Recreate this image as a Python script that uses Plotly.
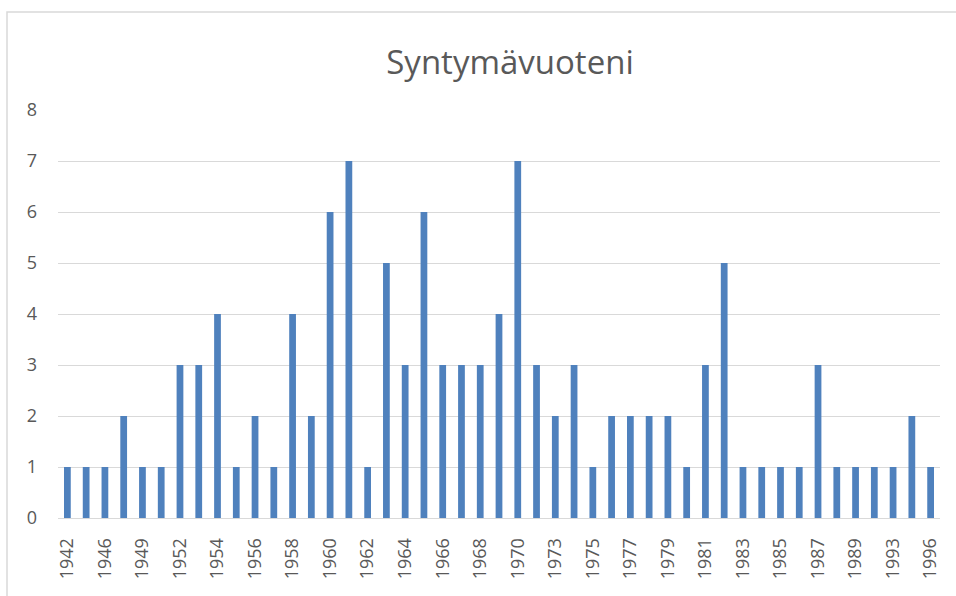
import plotly.graph_objects as go

years = ["1942", "1944", "1946", "1947", "1949", "1950", "1952", "1953", "1954", "1955",
         "1956", "1957", "1958", "1959", "1960", "1961", "1962", "1963", "1964", "1965",
         "1966", "1967", "1968", "1969", "1970", "1971", "1973", "1974", "1975", "1976",
         "1977", "1978", "1979", "1980", "1981", "1982", "1983", "1984", "1985", "1986",
         "1987", "1988", "1989", "1991", "1993", "1994", "1996"]
counts = [1, 1, 1, 2, 1, 1, 3, 3, 4, 1,
          2, 1, 4, 2, 6, 7, 1, 5, 3, 6,
          3, 3, 3, 4, 7, 3, 2, 3, 1, 2,
          2, 2, 2, 1, 3, 5, 1, 1, 1, 1,
          3, 1, 1, 1, 1, 2, 1]
shown_ticks = years[::2]
y_ticks = [0, 1, 2, 3, 4, 5, 6, 7, 8]

W, H = 956, 596
L, R, T, B = 58, 16, 110, 78
pw, ph = W - L - R, H - T - B

fig = go.Figure(go.Bar(x=years, y=counts, marker_color="#4F81BD",
                       marker_line_width=0))

fig.update_layout(
    width=W, height=H,
    margin=dict(l=L, r=R, t=T, b=B),
    paper_bgcolor="white", plot_bgcolor="white",
    bargap=0.64,
    showlegend=False,
    font=dict(family="Open Sans", color="#595959"),
    title=dict(text="Syntymävuoteni", x=510 / W, xanchor="center",
               y=1 - 62 / H, yanchor="middle",
               font=dict(size=33, color="#595959", family="Open Sans")),
    xaxis=dict(type="category", tickmode="array", tickvals=shown_ticks, ticktext=shown_ticks,
               tickangle=-90, tickfont=dict(size=18, color="#595959"),
               showgrid=False, showline=True, linecolor="#D9D9D9", linewidth=1,
               ticks="", ticklabelstandoff=12),
    yaxis=dict(range=[0, 8], tickvals=y_ticks, showgrid=True, gridcolor="#D9D9D9",
               gridwidth=1, zeroline=False, tickfont=dict(size=18, color="#595959"),
               ticks="", ticklabelstandoff=20),
    shapes=[dict(type="rect", xref="paper", yref="paper",
                 x0=(7 - L) / pw, x1=1.2, y0=-0.5, y1=1 + (T - 12) / ph,
                 line=dict(color="#D9D9D9", width=1.5), fillcolor="rgba(0,0,0,0)",
                 layer="below")],
)

fig.write_html("out.html", config={"displayModeBar": False},
               post_script="document.body.style.margin='0px';")
